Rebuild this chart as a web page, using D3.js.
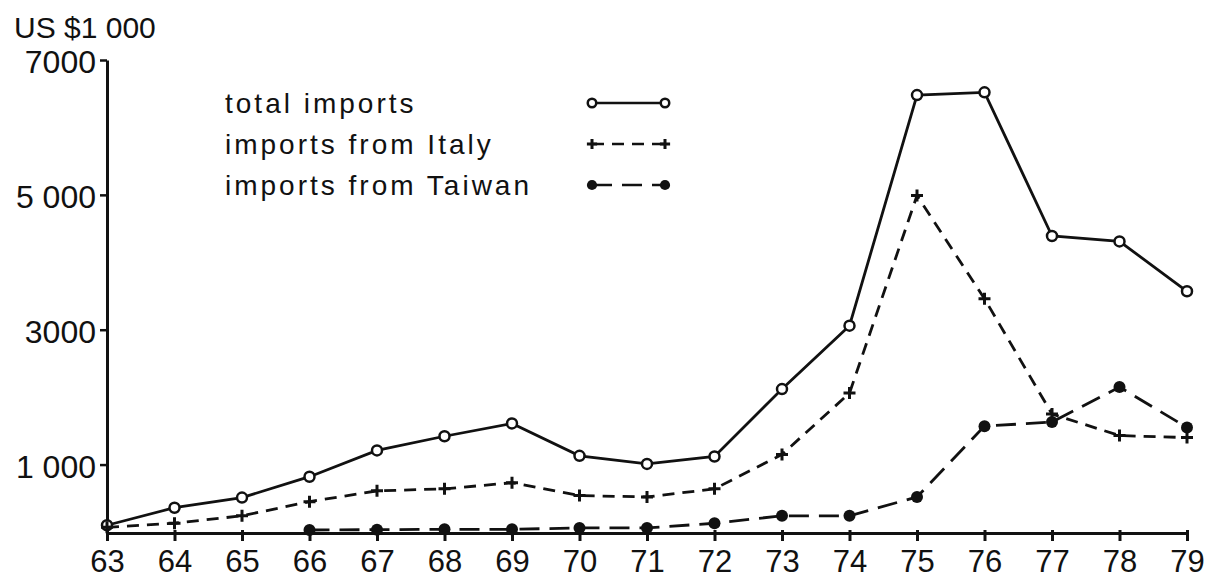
<!DOCTYPE html>
<html>
<head>
<meta charset="utf-8">
<script src="https://cdn.jsdelivr.net/npm/d3@7"></script>
<style>
  body { margin: 0; background: #fff; }
  text { font-family: "Liberation Sans", Arial, sans-serif; fill: #111; }
</style>
</head>
<body>
<div id="chart"></div>
<script>
/* DATA */
const years = [63, 64, 65, 66, 67, 68, 69, 70, 71, 72, 73, 74, 75, 76, 77, 78, 79];
const totalImports = [100, 360, 510, 820, 1210, 1420, 1610, 1130, 1010, 1120, 2120, 3060, 6480, 6520, 4390, 4310, 3570];
const italyImports = [70, 130, 240, 450, 610, 640, 730, 540, 520, 640, 1150, 2060, 4990, 3460, 1750, 1430, 1400];
const taiwanYears = [66, 67, 68, 69, 70, 71, 72, 73, 74, 75, 76, 77, 78, 79];
const taiwanImports = [30, 35, 40, 40, 60, 60, 130, 240, 240, 520, 1570, 1630, 2150, 1550];
const yTicks = [1000, 3000, 5000, 7000];
const yTickLabels = ["1 000", "3000", "5 000", "7000"];
const legendLabels = ["total imports", "imports from Italy", "imports from Taiwan"];

const width = 1212, height = 582;
const margin = { top: 60, right: 25, bottom: 50, left: 107 };

const svg = d3.select("#chart")
  .append("svg")
  .attr("width", width)
  .attr("height", height)
  .style("background-color", "#ffffff");

/* SCALES */
const xScale = d3.scaleLinear()
  .domain([63, 79])
  .range([margin.left, width - margin.right]);

const yScale = d3.scaleLinear()
  .domain([0, 7000])
  .range([height - margin.bottom, margin.top]);

/* AXES */
const xAxis = svg.append("g")
  .attr("transform", `translate(0,${yScale(0) + 1})`)
  .call(d3.axisBottom(xScale).tickValues(years).tickSize(8).tickPadding(9).tickSizeOuter(0));
xAxis.select(".domain").attr("stroke", "#111").attr("stroke-width", 3);
xAxis.selectAll(".tick line").attr("stroke", "#111").attr("stroke-width", 3).attr("y1", -3);
xAxis.selectAll(".tick text").style("font-size", "31px").attr("dy", "0.71em");

const yAxis = svg.append("g")
  .attr("transform", `translate(${margin.left},0)`)
  .call(d3.axisLeft(yScale).tickValues(yTicks).tickSize(7).tickPadding(4).tickSizeOuter(0)
    .tickFormat((d, i) => yTickLabels[i]));
yAxis.select(".domain").attr("stroke", "#111").attr("stroke-width", 3);
yAxis.selectAll(".tick line").attr("stroke", "#111").attr("stroke-width", 2.5);
yAxis.selectAll(".tick text").style("font-size", "32px").attr("dy", "0.4em");

svg.append("text")
  .attr("x", 14)
  .attr("y", 38)
  .style("font-size", "30px")
  .text("US $1 000");

/* LINES */
const line = d3.line()
  .x(d => xScale(d[0]))
  .y(d => yScale(d[1]));

const series = [
  { pts: d3.zip(years, totalImports), dash: null, marker: "circle" },
  { pts: d3.zip(years, italyImports), dash: "12,8", marker: "plus" },
  { pts: d3.zip(taiwanYears, taiwanImports), dash: "20,10", marker: "dot" }
];

function drawMarker(g, type, x, y, s = 1) {
  if (type === "circle") {
    g.append("circle").attr("cx", x).attr("cy", y).attr("r", 5 * s)
      .attr("fill", "#fff").attr("stroke", "#111").attr("stroke-width", 2.5);
  } else if (type === "plus") {
    g.append("path").attr("d", `M${x - 6 * s},${y}H${x + 6 * s}M${x},${y - 6 * s}V${y + 6 * s}`)
      .attr("stroke", "#111").attr("stroke-width", 3);
  } else {
    g.append("circle").attr("cx", x).attr("cy", y).attr("r", 6 * s).attr("fill", "#111");
  }
}

series.forEach(s => {
  svg.append("path")
    .datum(s.pts)
    .attr("fill", "none")
    .attr("stroke", "#111")
    .attr("stroke-width", 2.8)
    .attr("stroke-dasharray", s.dash)
    .attr("d", line);
  const g = svg.append("g");
  s.pts.forEach(p => drawMarker(g, s.marker, xScale(p[0]), yScale(p[1])));
});

/* LEGEND */
const legend = svg.append("g");
legendLabels.forEach((label, i) => {
  const y = 103 + i * 41;
  legend.append("text")
    .attr("x", 225)
    .attr("y", y + 10)
    .style("font-size", "28px")
    .style("letter-spacing", "3px")
    .text(label);
  legend.append("line")
    .attr("x1", 592).attr("x2", 665)
    .attr("y1", y).attr("y2", y)
    .attr("stroke", "#111").attr("stroke-width", 2.5)
    .attr("stroke-dasharray", series[i].dash);
  drawMarker(legend, series[i].marker, 592, y, 0.85);
  drawMarker(legend, series[i].marker, 665, y, 0.85);
});
</script>
</body>
</html>
